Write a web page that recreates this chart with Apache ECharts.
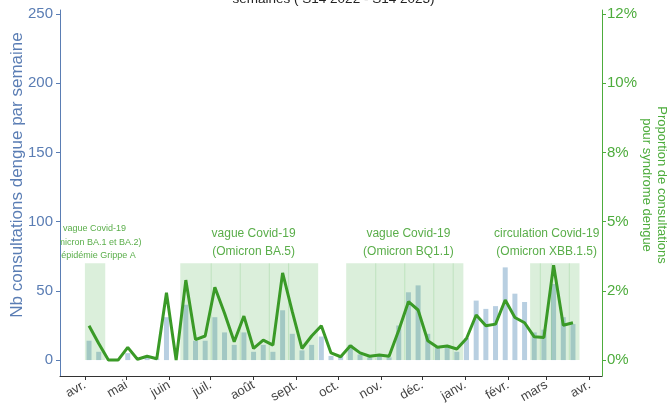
<!DOCTYPE html>
<html lang="fr">
<head>
    <meta charset="UTF-8">
    <title>Consultations dengue</title>
    <script src="https://cdn.jsdelivr.net/npm/echarts@6/dist/echarts.min.js"></script>
    <style>html, body { margin: 0; padding: 0; background: #fff; }</style>
</head>
<body>
<div id="chart" style="width:667px;height:406px;"></div>
<script type="text/javascript">
    // semaines S14 2022 -> S12 2023 (lundi de chaque semaine)
    var weekDates = [
        '2022-04-04', '2022-04-11', '2022-04-18', '2022-04-25', '2022-05-02', '2022-05-09', '2022-05-16',
        '2022-05-23', '2022-05-30', '2022-06-06', '2022-06-13', '2022-06-20', '2022-06-27', '2022-07-04',
        '2022-07-11', '2022-07-18', '2022-07-25', '2022-08-01', '2022-08-08', '2022-08-15', '2022-08-22',
        '2022-08-29', '2022-09-05', '2022-09-12', '2022-09-19', '2022-09-26', '2022-10-03', '2022-10-10',
        '2022-10-17', '2022-10-24', '2022-10-31', '2022-11-07', '2022-11-14', '2022-11-21', '2022-11-28',
        '2022-12-05', '2022-12-12', '2022-12-19', '2022-12-26', '2023-01-02', '2023-01-09', '2023-01-16',
        '2023-01-23', '2023-01-30', '2023-02-06', '2023-02-13', '2023-02-20', '2023-02-27', '2023-03-06',
        '2023-03-13', '2023-03-20'
    ];
    // Nb consultations dengue par semaine
    var nbConsult = [
        14, 6, 0, 0, 5, 0, 2, 1, 31, 0, 40, 14, 14, 31, 20, 11, 20, 6, 11, 6, 36, 19, 7, 11, 17, 3,
        3, 11, 4, 2, 3, 2, 25, 49, 54, 19, 10, 10, 6, 16, 43, 37, 39, 67, 48, 42, 20, 22, 55, 31, 26
    ];
    // proportion (%) de consultations pour syndrome dengue
    var propDengue = [
        1.24, 0.60, 0, 0, 0.46, 0.03, 0.14, 0.05, 2.43, 0, 2.89, 0.74, 0.87, 2.63, 1.69, 0.66, 1.59,
        0.42, 0.72, 0.54, 3.15, 1.75, 0.42, 0.87, 1.24, 0.26, 0.12, 0.52, 0.26, 0.14, 0.18, 0.14,
        1.08, 2.11, 1.81, 0.70, 0.46, 0.51, 0.40, 0.78, 1.63, 1.24, 1.30, 2.17, 1.54, 1.35, 0.84,
        0.82, 3.43, 1.26, 1.35
    ];

    var monthTicks = [
        '2022-04-01', '2022-05-01', '2022-06-01', '2022-07-01', '2022-08-01', '2022-09-01', '2022-10-01',
        '2022-11-01', '2022-12-01', '2023-01-01', '2023-02-01', '2023-03-01', '2023-04-01'
    ];
    var monthLabels = ['avr.', 'mai', 'juin', 'juil.', 'août', 'sept.', 'oct.', 'nov.', 'déc.', 'janv.', 'févr.', 'mars', 'avr.'];
    var leftTicks = [0, 50, 100, 150, 200, 250];
    var rightTicks = [0, 2.5, 5, 7.5, 10, 12.5];
    var rightTickLabels = ['0%', '2%', '5%', '8%', '10%', '12%'];

    // périodes de circulation (bandes vertes)
    var wavePeriods = [
        ['2022-04-01', '2022-04-15'],
        ['2022-06-09', '2022-07-01'], ['2022-07-01', '2022-07-22'], ['2022-07-22', '2022-08-12'],
        ['2022-08-12', '2022-08-26'], ['2022-08-26', '2022-09-16'],
        ['2022-10-07', '2022-10-28'], ['2022-10-28', '2022-11-18'], ['2022-11-18', '2022-12-09'],
        ['2022-12-09', '2022-12-23'], ['2022-12-23', '2022-12-30'],
        ['2023-02-17', '2023-02-24'], ['2023-02-24', '2023-03-04'], ['2023-03-04', '2023-03-17'],
        ['2023-03-17', '2023-03-24']
    ];
    var waveNoteDates = ['2022-04-08', '2022-08-01', '2022-11-21', '2023-03-01'];
    var waveNoteTexts = [
        'vague Covid-19\n(Omicron BA.1 et BA.2)\n+ épidémie Grippe A',
        'vague Covid-19\n(Omicron BA.5)',
        'vague Covid-19\n(Omicron BQ1.1)',
        'circulation Covid-19\n(Omicron XBB.1.5)'
    ];

    var BLUE = '#5a7db4', GREEN = '#4dac3c', LINE = '#3a9a27', NOTE = '#5aae4a';
    var FONT = 'Liberation Sans, Arial, sans-serif';
    var ts = function (d) { return echarts.time.parse(d).getTime(); };

    var monthTs = monthTicks.map(ts);

    var chart = echarts.init(document.getElementById('chart'));
    var option = {
        animation: false,
        textStyle: { fontFamily: FONT },
        title: {
            text: 'semaines ( S14 2022 - S14 2023)',
            left: 'center', top: -8, padding: 0,
            textStyle: { fontSize: 13.5, fontWeight: 'normal', color: '#222', fontFamily: FONT }
        },
        grid: { left: 60, right: 65, top: 10, bottom: 30, containLabel: false, outerBoundsMode: 'none' },
        xAxis: {
            type: 'value',
            min: ts('2022-03-14'),
            max: ts('2023-04-10'),
            splitLine: { show: false },
            axisLine: { onZero: false, lineStyle: { color: '#333', width: 1 } },
            axisTick: { length: 4, lineStyle: { color: '#333' }, customValues: monthTs },
            axisLabel: {
                customValues: monthTs,
                rotate: 30, fontSize: 13, color: '#444', margin: 8,
                formatter: function (v) { return monthLabels[monthTs.indexOf(v)] || ''; }
            }
        },
        yAxis: [{
            type: 'value',
            min: -11.5, max: 253,
            name: 'Nb consultations dengue par semaine',
            nameLocation: 'middle', nameGap: 34, nameRotate: 90, nameMoveOverlap: false,
            nameTextStyle: { color: BLUE, fontSize: 17, padding: [0, 0, 0, 36] },
            splitLine: { show: false },
            axisLine: { show: true, lineStyle: { color: BLUE } },
            axisTick: { show: true, length: 4, customValues: leftTicks, lineStyle: { color: BLUE } },
            axisLabel: { customValues: leftTicks, color: BLUE, fontSize: 15, margin: 7 }
        }, {
            type: 'value',
            min: -0.575, max: 12.65,
            position: 'right',
            name: 'Proportion de consultations\npour syndrome dengue',
            nameLocation: 'middle', nameGap: 37, nameRotate: -90, nameMoveOverlap: false,
            nameTextStyle: { color: GREEN, fontSize: 13, lineHeight: 15, padding: [0, 16, 0, 0] },
            splitLine: { show: false },
            axisLine: { show: true, lineStyle: { color: GREEN } },
            axisTick: { show: true, length: 4, customValues: rightTicks, lineStyle: { color: GREEN } },
            axisLabel: {
                customValues: rightTicks, color: GREEN, fontSize: 15, margin: 5,
                formatter: function (v) { return rightTickLabels[rightTicks.indexOf(v)]; }
            }
        }],
        series: [{
            name: 'Nb consultations',
            type: 'bar',
            yAxisIndex: 0,
            z: 2,
            barWidth: 5,
            itemStyle: { color: '#b8cfe1' },
            data: weekDates.map(function (d, i) { return [ts(d), nbConsult[i]]; })
        }, {
            name: 'périodes',
            type: 'custom',
            yAxisIndex: 0,
            z: 3,
            silent: true,
            renderItem: function (params, api) {
                var p0 = api.coord([api.value(0), 70]);
                var p1 = api.coord([api.value(1), 0]);
                return {
                    type: 'rect',
                    shape: { x: p0[0], y: p0[1], width: p1[0] - p0[0] + 1, height: p1[1] - p0[1] },
                    style: { fill: 'rgba(77,175,74,0.2)' }
                };
            },
            encode: { x: [0, 1], y: 2 },
            data: wavePeriods.map(function (p) { return [ts(p[0]), ts(p[1]), 0]; })
        }, {
            name: 'Proportion',
            type: 'line',
            yAxisIndex: 1,
            z: 4,
            symbol: 'none',
            lineStyle: { color: LINE, width: 3 },
            itemStyle: { color: LINE },
            data: weekDates.map(function (d, i) { return [ts(d), propDengue[i]]; })
        }, {
            name: 'notes',
            type: 'custom',
            yAxisIndex: 0,
            z: 5,
            clip: true,
            silent: true,
            renderItem: function (params, api) {
                var p = api.coord([api.value(0), 85]);
                var small = params.dataIndex === 0;
                return {
                    type: 'text',
                    x: p[0], y: p[1],
                    style: {
                        text: waveNoteTexts[params.dataIndex],
                        fill: NOTE,
                        font: (small ? 9 : 12) + 'px ' + FONT,
                        lineHeight: small ? 13.5 : 18,
                        align: 'center',
                        verticalAlign: 'middle'
                    }
                };
            },
            encode: { x: 0, y: 1 },
            data: waveNoteDates.map(function (d) { return [ts(d), 85]; })
        }]
    };
    chart.setOption(option);
</script>
</body>
</html>
